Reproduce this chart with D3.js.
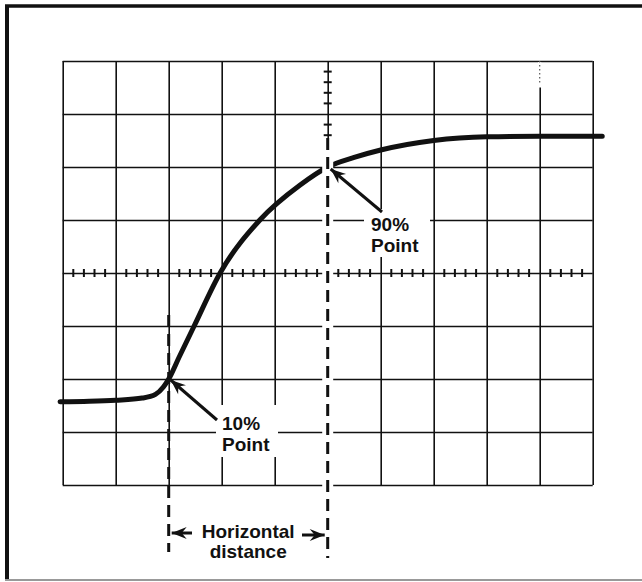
<!DOCTYPE html>
<html>
<head>
<meta charset="utf-8">
<script src="https://cdn.jsdelivr.net/npm/d3@7"></script>
<style>
  body { margin: 0; background: #fff; }
  text { font-family: "Liberation Sans", Arial, sans-serif; font-weight: bold; fill: #111; }
</style>
</head>
<body>
<div id="chart"></div>
<script>
// rise-time trace, in graticule divisions (x from left, y from bottom)
const traceX = [-0.05, 0.5, 1.0, 1.5, 1.75, 1.9, 2.0, 2.2, 2.48, 2.97, 3.72, 4.48, 5.0, 5.5, 6.0, 7.0, 8.0, 9.0, 10.18];
const traceY = [1.57, 1.58, 1.60, 1.64, 1.71, 1.85, 2.0, 2.42, 3.0, 4.0, 5.0, 5.66, 6.0, 6.18, 6.32, 6.50, 6.57, 6.58, 6.58];

const gridX = [0, 1, 2, 3, 4, 5, 6, 7, 8, 9, 10];
const gridY = [0, 1, 2, 3, 4, 5, 6, 7, 8];

const point10 = [2, 2];
const point90 = [5, 6];
const label10 = ["10%", "Point"];
const label90 = ["90%", "Point"];
const distLabel = ["Horizontal", "distance"];

const W = 642, H = 582;
const gLeft = 62.7, gRight = 592.7, gTop = 61, gBottom = 485;

const svg = d3.select("#chart").append("svg")
    .attr("width", W)
    .attr("height", H);

const x = d3.scaleLinear().domain([0, 10]).range([gLeft, gRight]);
const y = d3.scaleLinear().domain([0, 8]).range([gBottom, gTop]);

// outer frame (only top, left, bottom visible)
svg.append("line").attr("x1", 5).attr("x2", W).attr("y1", 6).attr("y2", 6)
    .attr("stroke", "#111").attr("stroke-width", 3.5);
svg.append("line").attr("x1", 7).attr("x2", 7).attr("y1", 5).attr("y2", 580)
    .attr("stroke", "#111").attr("stroke-width", 4);
svg.append("line").attr("x1", 5).attr("x2", W).attr("y1", 580).attr("y2", 580)
    .attr("stroke", "#999").attr("stroke-width", 2);

// graticule
svg.append("g")
    .attr("transform", `translate(0,${gBottom})`)
    .call(d3.axisBottom(x).tickValues(gridX).tickSize(-(gBottom - gTop)).tickFormat(""))
    .call(g => g.select(".domain").remove())
    .call(g => g.selectAll(".tick line").attr("stroke", "#111").attr("stroke-width", 1.6));

svg.append("g")
    .attr("transform", `translate(${gLeft},0)`)
    .call(d3.axisLeft(y).tickValues(gridY).tickSize(-(gRight - gLeft)).tickFormat(""))
    .call(g => g.select(".domain").remove())
    .call(g => g.selectAll(".tick line").attr("stroke", "#111").attr("stroke-width", 1.6));

// faded line segment in the top row
svg.append("line")
    .attr("x1", x(9)).attr("x2", x(9)).attr("y1", y(8) + 1).attr("y2", y(7.5))
    .attr("stroke", "#fff").attr("stroke-width", 3);
svg.append("line")
    .attr("x1", x(9)).attr("x2", x(9)).attr("y1", y(8)).attr("y2", y(7.55))
    .attr("stroke", "#555").attr("stroke-width", 1.2).attr("stroke-dasharray", "1.5,2.5");

// minor ticks on centre lines
const minor = d3.range(1, 50).filter(i => i % 5 !== 0).map(i => i / 5);
const minorV = d3.range(1, 40).filter(i => i % 5 !== 0).map(i => i / 5);

svg.append("g").selectAll("line")
    .data(minor)
    .join("line")
    .attr("x1", d => x(d)).attr("x2", d => x(d))
    .attr("y1", y(4) - 4).attr("y2", y(4) + 4)
    .attr("stroke", "#111").attr("stroke-width", 2);

svg.append("g").selectAll("line")
    .data(minorV)
    .join("line")
    .attr("x1", x(5) - 4).attr("x2", x(5) + 4)
    .attr("y1", d => y(d)).attr("y2", d => y(d))
    .attr("stroke", "#111").attr("stroke-width", 2);

// trace
const line = d3.line()
    .x((d, i) => x(traceX[i]))
    .y(d => y(d))
    .curve(d3.curveMonotoneX);

svg.append("path")
    .datum(traceY)
    .attr("d", line)
    .attr("fill", "none")
    .attr("stroke", "#111")
    .attr("stroke-width", 5)
    .attr("stroke-linecap", "round");

// 10% dashed marker
svg.append("line")
    .attr("x1", x(point10[0])).attr("x2", x(point10[0]))
    .attr("y1", 315).attr("y2", 552)
    .attr("stroke", "#111").attr("stroke-width", 3)
    .attr("stroke-dasharray", "12,7");

// 90% dashed marker, over a white band
svg.append("line")
    .attr("x1", x(point90[0])).attr("x2", x(point90[0]))
    .attr("y1", 138).attr("y2", 558)
    .attr("stroke", "#fff").attr("stroke-width", 11);
svg.append("line")
    .attr("x1", x(point90[0])).attr("x2", x(point90[0]))
    .attr("y1", 138).attr("y2", 558)
    .attr("stroke", "#111").attr("stroke-width", 3)
    .attr("stroke-dasharray", "12,7");

const head = "M0,0 L-15,-6 L-10,0 L-15,6 Z";

function arrow(x1, y1, x2, y2) {
    const a = Math.atan2(y2 - y1, x2 - x1) * 180 / Math.PI;
    svg.append("line")
        .attr("x1", x1).attr("y1", y1).attr("x2", x2).attr("y2", y2)
        .attr("stroke", "#111").attr("stroke-width", 3);
    svg.append("path")
        .attr("d", head)
        .attr("fill", "#111")
        .attr("transform", `translate(${x2},${y2}) rotate(${a})`);
}

function label(lines, lx, ly, box) {
    svg.append("rect")
        .attr("x", box[0]).attr("y", box[1]).attr("width", box[2]).attr("height", box[3])
        .attr("fill", "#fff");
    svg.append("text")
        .attr("x", lx).attr("y", ly)
        .style("font-size", "19px")
        .selectAll("tspan")
        .data(lines)
        .join("tspan")
        .attr("x", lx)
        .attr("dy", (d, i) => i ? 20.5 : 0)
        .text(d => d);
}

// 10% label + arrow
label(label10, 222, 430, [216, 405, 62, 52]);
arrow(217, 420, x(point10[0]) + 2, y(point10[1]) + 1);

// 90% label + arrow
label(label90, 371, 231, [364, 209, 66, 48]);
arrow(382, 212, x(point90[0]) + 3, y(point90[1]) + 2);

// horizontal distance
const midX = (x(point10[0]) + x(point90[0])) / 2;
svg.append("text")
    .attr("x", midX).attr("y", 538)
    .attr("text-anchor", "middle")
    .style("font-size", "19px")
    .selectAll("tspan")
    .data(distLabel)
    .join("tspan")
    .attr("x", midX)
    .attr("dy", (d, i) => i ? 19.5 : 0)
    .text(d => d);

arrow(192, 533, x(point10[0]) + 3, 533);
arrow(302, 535, x(point90[0]) - 3, 535);
</script>
</body>
</html>
